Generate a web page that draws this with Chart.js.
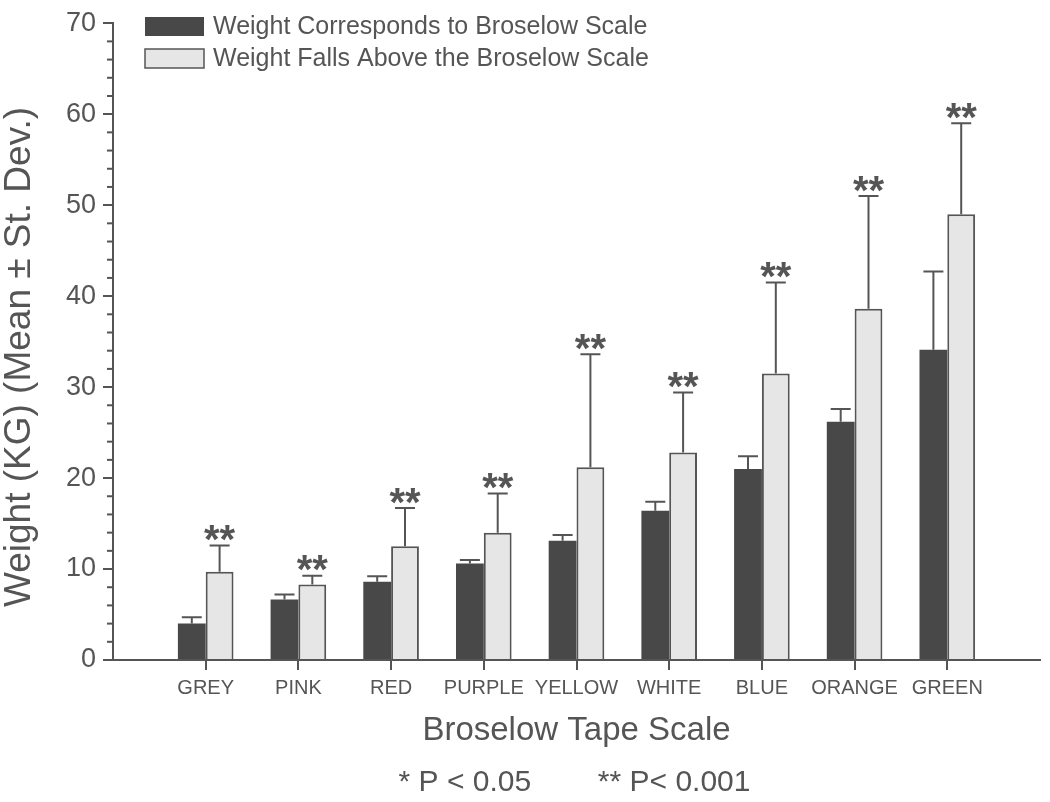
<!DOCTYPE html>
<html>
<head>
<meta charset="utf-8">
<script src="https://cdn.jsdelivr.net/npm/chart.js@4/dist/chart.umd.min.js"></script>
<style>
  html, body { margin: 0; padding: 0; background: #ffffff; }
  canvas { display: block; }
</style>
</head>
<body>
<canvas id="c" width="1050" height="802"></canvas>
<script>
// ---- Data ----
const categories = ['GREY', 'PINK', 'RED', 'PURPLE', 'YELLOW', 'WHITE', 'BLUE', 'ORANGE', 'GREEN'];
const correspondsMean = [4.0, 6.65, 8.6, 10.6, 13.1, 16.4, 21.0, 26.2, 34.1];
const correspondsSD   = [0.7, 0.55, 0.6, 0.4, 0.65, 1.0, 1.4, 1.4, 8.6];
const aboveMean = [9.7, 8.3, 12.5, 14.0, 21.2, 22.8, 31.5, 38.6, 49.0];
const aboveSD   = [2.9, 0.95, 4.2, 4.3, 12.4, 6.6, 10.0, 12.4, 10.0];
const significance = ['**', '**', '**', '**', '**', '**', '**', '**', '**'];
const seriesNames = ['Weight Corresponds to Broselow Scale', 'Weight Falls Above the Broselow Scale'];
const yTickValues = [0, 10, 20, 30, 40, 50, 60, 70];
const xTitle = 'Broselow Tape Scale';
const yTitle = 'Weight (KG) (Mean \u00B1 St. Dev.)';
const footnote = '* P < 0.05        ** P< 0.001';

// ---- Styling ----
const FONT = "'Liberation Sans', Arial, Helvetica, sans-serif";
const INK = '#555555';
const DARK = '#484848';
const LIGHT = '#e6e6e6';

const labels = [''].concat(categories, ['']);
const pad = arr => [null].concat(arr, [null]);
const sdByDataset = [correspondsSD, aboveSD];
const meanByDataset = [correspondsMean, aboveMean];

Chart.defaults.font.family = FONT;
Chart.defaults.color = INK;

const errorBars = {
  id: 'errorBars',
  afterDatasetsDraw(chart) {
    const ctx = chart.ctx;
    const y = chart.scales.y;
    ctx.save();
    ctx.strokeStyle = INK;
    ctx.lineWidth = 2;
    for (let d = 0; d < 2; d++) {
      const meta = chart.getDatasetMeta(d);
      for (let i = 0; i < categories.length; i++) {
        const bar = meta.data[i + 1];
        if (!bar) continue;
        const top = y.getPixelForValue(meanByDataset[d][i] + sdByDataset[d][i]);
        ctx.beginPath();
        ctx.moveTo(bar.x, bar.y);
        ctx.lineTo(bar.x, top);
        ctx.moveTo(bar.x - 10, top);
        ctx.lineTo(bar.x + 10, top);
        ctx.stroke();
      }
    }
    // significance stars over the "above" bars
    const meta = chart.getDatasetMeta(1);
    ctx.fillStyle = INK;
    ctx.font = 'bold 40px ' + FONT;
    ctx.textAlign = 'center';
    ctx.textBaseline = 'alphabetic';
    for (let i = 0; i < categories.length; i++) {
      const bar = meta.data[i + 1];
      const top = y.getPixelForValue(aboveMean[i] + aboveSD[i]);
      ctx.fillText(significance[i], bar.x, top + 7.5);
    }
    ctx.restore();
  }
};

const extras = {
  id: 'extras',
  afterDraw(chart) {
    const ctx = chart.ctx;
    const y = chart.scales.y;
    const ca = chart.chartArea;
    ctx.save();
    // minor ticks on the y axis
    ctx.strokeStyle = INK;
    ctx.lineWidth = 2;
    for (let v = 0; v <= 70; v += 2) {
      if (v % 10 === 0) continue;
      const py = y.getPixelForValue(v);
      ctx.beginPath();
      ctx.moveTo(ca.left - 6, py);
      ctx.lineTo(ca.left, py);
      ctx.stroke();
    }
    // legend
    const boxX = 145, boxW = 59, boxH = 19;
    const rows = [17, 49];
    ctx.font = '25px ' + FONT;
    ctx.textAlign = 'left';
    ctx.textBaseline = 'middle';
    for (let k = 0; k < 2; k++) {
      ctx.fillStyle = k === 0 ? DARK : LIGHT;
      ctx.fillRect(boxX, rows[k], boxW, boxH);
      if (k === 1) {
        ctx.lineWidth = 1.5;
        ctx.strokeStyle = INK;
        ctx.strokeRect(boxX, rows[k], boxW, boxH);
      }
      ctx.fillStyle = INK;
      ctx.fillText(seriesNames[k], 213, rows[k] + boxH / 2 + 1);
    }
    // footnote
    ctx.font = '30px ' + FONT;
    ctx.textAlign = 'center';
    ctx.fillText(footnote, (ca.left + ca.right) / 2 - 2, 783);
    ctx.restore();
  }
};

new Chart(document.getElementById('c'), {
  type: 'bar',
  data: {
    labels: labels,
    datasets: [
      {
        label: seriesNames[0],
        data: pad(correspondsMean),
        backgroundColor: DARK,
        borderWidth: 0
      },
      {
        label: seriesNames[1],
        data: pad(aboveMean),
        backgroundColor: LIGHT,
        borderColor: INK,
        borderWidth: 2
      }
    ]
  },
  options: {
    responsive: false,
    animation: false,
    layout: { padding: { top: 18, right: 10, bottom: 0, left: 0 } },
    datasets: { bar: { categoryPercentage: 0.6, barPercentage: 1.0 } },
    plugins: {
      legend: { display: false },
      tooltip: { enabled: false }
    },
    scales: {
      x: {
        type: 'category',
        offset: false,
        border: { color: INK, width: 2 },
        grid: {
          offset: false,
          drawOnChartArea: false,
          drawTicks: true,
          tickLength: 10,
          lineWidth: 2,
          color: ctx => (ctx.index === 0 || ctx.index === labels.length - 1) ? 'rgba(0,0,0,0)' : INK
        },
        ticks: {
          autoSkip: false,
          maxRotation: 0,
          font: { size: 20 },
          color: INK,
          padding: 6
        },
        title: {
          display: true,
          text: xTitle,
          font: { size: 33 },
          color: INK,
          padding: { top: 0, bottom: 51 }
        },
        afterFit(scale) { scale.height = 142; }
      },
      y: {
        min: 0,
        max: 70,
        border: { color: INK, width: 2 },
        grid: {
          drawOnChartArea: false,
          drawTicks: true,
          tickLength: 10,
          lineWidth: 2,
          color: INK
        },
        afterBuildTicks(scale) { scale.ticks = yTickValues.map(v => ({ value: v })); },
        ticks: {
          font: { size: 27 },
          color: INK,
          padding: 7
        },
        title: {
          display: true,
          text: yTitle + '   ',
          font: { size: 37, lineHeight: 1.0 },
          color: INK,
          padding: { top: 1, bottom: 0 }
        },
        afterFit(scale) { scale.width = 113; }
      }
    }
  },
  plugins: [errorBars, extras]
});
</script>
</body>
</html>
